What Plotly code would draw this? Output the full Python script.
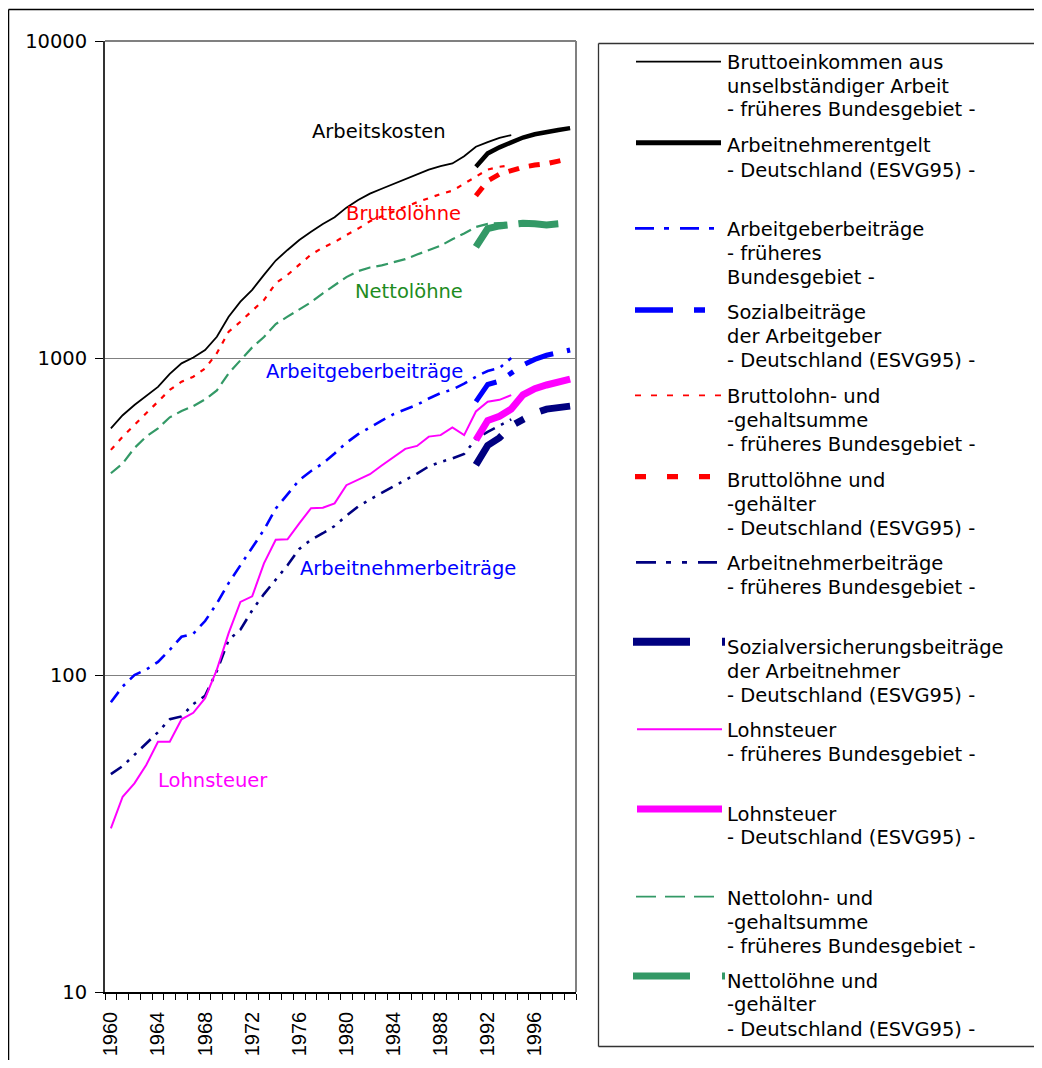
import plotly.graph_objects as go

# ---------------- data ----------------
years_west = list(range(1960, 1995))
years_de = list(range(1991, 2000))

bruttoeinkommen_west = [600, 660, 711, 759, 811, 891, 962, 1004, 1059, 1167,
                        1349, 1506, 1640, 1829, 2030, 2192, 2355, 2500, 2646, 2780,
                        2980, 3150, 3300, 3420, 3540, 3670, 3800, 3930, 4030, 4110,
                        4330, 4640, 4800, 4950, 5050]
arbeitnehmerentgelt_de = [4015, 4420, 4620, 4780, 4960, 5080, 5170, 5240, 5310]

arbeitgeber_west = [82, 92, 100, 104, 110, 120, 132, 135, 148, 168,
                    195, 222, 254, 287, 335, 372, 412, 440, 465, 500,
                    540, 575, 605, 635, 665, 690, 712, 745, 775, 795,
                    830, 873, 910, 930, 1000]
sozialbeitraege_ag_de = [728, 825, 845, 900, 950, 990, 1020, 1040, 1060]

bruttolohn_west = [513, 565, 615, 669, 728, 793, 842, 873, 927, 1035,
                   1210, 1301, 1410, 1523, 1722, 1829, 1970, 2120, 2230, 2320,
                   2444, 2560, 2700, 2800, 2900, 3000, 3100, 3200, 3290, 3370,
                   3540, 3733, 3930, 4010, 4060]
bruttolohn_de = [3250, 3620, 3800, 3900, 4000, 4060, 4100, 4180, 4260]

arbeitnehmer_west = [48.7, 51.6, 56, 61, 66, 72.5, 74, 81, 86, 103,
                     129, 139, 160, 180, 200, 222, 250, 267, 280, 295,
                     318, 340, 358, 375, 393, 410, 432, 455, 470, 482,
                     498, 555, 585, 612, 640]
sv_arbeitnehmer_de = [460, 530, 560, 610, 640, 670, 690, 700, 705]

lohnsteuer_west = [32.8, 41.3, 45.5, 52, 61.6, 61.6, 72.5, 76, 84.5, 104,
                   135.5, 170, 177, 225, 267, 268, 301, 336, 337, 348,
                   397, 412, 430, 458, 486, 517, 528, 565, 571, 604,
                   571, 678, 728, 738, 764]
lohnsteuer_de = [551, 635, 655, 690, 765, 800, 822, 840, 858]

nettolohn_west = [433, 465, 520, 565, 600, 650, 680, 705, 740, 790,
                  895, 986, 1080, 1165, 1280, 1350, 1420, 1500, 1600, 1700,
                  1800, 1880, 1930, 1960, 2000, 2050, 2120, 2190, 2260, 2370,
                  2470, 2590, 2650, 2665, 2675]
nettolohn_de = [2240, 2560, 2610, 2650, 2660, 2650, 2630, 2650, 2670]

x_tick_years = list(range(1960, 2000, 4))
y_ticks = [10, 100, 1000, 10000]

legend_texts = [
    ["Bruttoeinkommen aus", "unselbständiger Arbeit", "- früheres Bundesgebiet -"],
    ["Arbeitnehmerentgelt", "- Deutschland (ESVG95) -"],
    ["Arbeitgeberbeiträge", "- früheres", "Bundesgebiet -"],
    ["Sozialbeiträge", "der Arbeitgeber", "- Deutschland (ESVG95) -"],
    ["Bruttolohn- und", "-gehaltsumme", "- früheres Bundesgebiet -"],
    ["Bruttolöhne und", "-gehälter", "- Deutschland (ESVG95) -"],
    ["Arbeitnehmerbeiträge", "- früheres Bundesgebiet -"],
    ["Sozialversicherungsbeiträge", "der Arbeitnehmer", "- Deutschland (ESVG95) -"],
    ["Lohnsteuer", "- früheres Bundesgebiet -"],
    ["Lohnsteuer", "- Deutschland (ESVG95) -"],
    ["Nettolohn- und", "-gehaltsumme", "- früheres Bundesgebiet -"],
    ["Nettolöhne und", "-gehälter", "- Deutschland (ESVG95) -"],
]

# ---------------- styling ----------------
FONT = "DejaVu Sans"
FS = 19.5
OFF = 8                      # default body margin of the html page
W, H = 1042 - 2 * OFF, 1068 - 2 * OFF
PL, PR, PT, PB = 105, 576, 41, 992   # plot area in screen pixels


def px(xp):
    return (xp - PL) / (PR - PL)


def py(yp):
    return (PB - yp) / (PB - PT)


BLACK = "#000000"
RED = "#FF0000"
BLUE = "#0000FF"
NAVY = "#000080"
MAGENTA = "#FF00FF"
GREEN = "#339966"

fig = go.Figure()

thin = [
    (years_west, bruttoeinkommen_west, BLACK, 1.8, "solid"),
    (years_west, bruttolohn_west, RED, 2.2, "5px,7px"),
    (years_west, nettolohn_west, GREEN, 2.2, "12px,6px"),
    (years_west, arbeitgeber_west, BLUE, 2.6, "13px,7px,3px,7px"),
    (years_west, arbeitnehmer_west, NAVY, 2.6, "13px,7px,3px,7px,3px,7px"),
    (years_west, lohnsteuer_west, MAGENTA, 2.0, "solid"),
]
thick = [
    (years_de, arbeitnehmerentgelt_de, BLACK, 4.5, "solid"),
    (years_de, bruttolohn_de, RED, 5.0, "11px,10px"),
    (years_de, nettolohn_de, GREEN, 7.0, "42px,11px,40px,30px"),
    (years_de, sozialbeitraege_ag_de, BLUE, 5.0, "30px,14px,6px,14px"),
    (years_de, sv_arbeitnehmer_de, NAVY, 7.0, "40px,18px,10px,18px"),
    (years_de, lohnsteuer_de, MAGENTA, 7.0, "solid"),
]
for xs, ys, col, w, dash in thin + thick:
    fig.add_trace(go.Scatter(x=xs, y=ys, mode="lines", showlegend=False,
                             line=dict(color=col, width=w, dash=dash),
                             hoverinfo="skip"))

annotations = []
labels = [
    ("Arbeitskosten", 379, 132, BLACK),
    ("Bruttolöhne", 403, 214, RED),
    ("Nettolöhne", 409, 291, "#1E8C1E"),
    ("Arbeitgeberbeiträge", 364, 372, BLUE),
    ("Arbeitnehmerbeiträge", 408, 568, BLUE),
    ("Lohnsteuer", 213, 780, MAGENTA),
]
for t, x0, y0, c in labels:
    annotations.append(dict(text=t, x=px(x0), y=py(y0), xref="paper", yref="paper",
                            xanchor="center", yanchor="middle", showarrow=False,
                            font=dict(family=FONT, size=FS, color=c)))

shapes = []
legend_lines = [
    (61.7, 636, 721, BLACK, 1.8, "solid"),
    (142.7, 636, 721, BLACK, 5.0, "solid"),
    (228.3, 635, 717, BLUE, 2.7, "19px,10px,5px,11px"),
    (310.0, 635, 705, BLUE, 5.3, "38px,21px,11px,21px"),
    (395.3, 635, 722, RED, 1.8, "6px,10px"),
    (476.7, 635, 710, RED, 5.3, "11px,21px"),
    (562.3, 636, 717, NAVY, 2.7, "20px,10px,5px,11px,5px,11px"),
    (641.7, 633, 725, NAVY, 8.0, "57px,32px"),
    (729.3, 637, 722, MAGENTA, 2.0, "solid"),
    (809.0, 637, 722, MAGENTA, 7.0, "solid"),
    (896.7, 636, 714, GREEN, 1.8, "20px,9px"),
    (976.0, 633, 725, GREEN, 7.0, "57px,32px"),
]
legend_text_y = [
    [62.3, 86, 109.3],
    [145, 170],
    [229.3, 253.3, 277.3],
    [312.7, 336.7, 360],
    [396, 421, 444],
    [480, 504.3, 528.3],
    [563.3, 587.3],
    [647.3, 671, 695],
    [730.7, 754.3],
    [814.3, 837.7],
    [898.3, 922.3, 946.7],
    [981.7, 1005, 1029.3],
]
for (ly, xa, xb, col, w, dash), texts, tys in zip(legend_lines, legend_texts, legend_text_y):
    shapes.append(dict(type="line", xref="paper", yref="paper",
                       x0=px(xa), x1=px(xb), y0=py(ly), y1=py(ly),
                       line=dict(color=col, width=w, dash=dash)))
    for t, ty in zip(texts, tys):
        annotations.append(dict(text=t, x=px(725), y=py(ty), xref="paper", yref="paper",
                                xanchor="left", yanchor="middle", showarrow=False,
                                font=dict(family=FONT, size=FS, color="#000000")))


def seg(xa, ya, xb, yb, color, width):
    shapes.append(dict(type="line", xref="paper", yref="paper",
                       x0=px(xa), x1=px(xb), y0=py(ya), y1=py(yb),
                       line=dict(color=color, width=width)))


# legend box (left, top, bottom; right side lies beyond the picture)
seg(598.5, 43.5, 598.5, 1046.5, "#333333", 1.3)
seg(598.5, 43.5, 1045, 43.5, "#333333", 1.3)
seg(598.5, 1046.5, 1045, 1046.5, "#333333", 1.3)
# outer frame (left and top visible)
seg(8.5, 9.5, 8.5, 1075, "#000000", 1.5)
seg(8.5, 9.5, 1045, 9.5, "#000000", 1.5)
# top & right border of plot area
shapes.append(dict(type="line", xref="paper", yref="paper", x0=0, x1=1, y0=1, y1=1,
                   line=dict(color="#808080", width=2)))
shapes.append(dict(type="line", xref="paper", yref="paper", x0=1, x1=1, y0=0, y1=1,
                   line=dict(color="#808080", width=2)))

fig.update_layout(
    width=W, height=H,
    margin=dict(l=PL - OFF, r=W - (PR - OFF), t=PT - OFF, b=H - (PB - OFF), autoexpand=False),
    paper_bgcolor="white", plot_bgcolor="white",
    template="none",
    font=dict(family=FONT, size=FS, color="#000000"),
    annotations=annotations, shapes=shapes,
    xaxis=dict(range=[1959.5, 1999.5], tickmode="array", tickvals=x_tick_years,
               ticktext=[str(y) for y in x_tick_years], tickangle=-90,
               ticks="", showgrid=False, zeroline=False, automargin=False,
               showline=True, linecolor="#000000", linewidth=1.5,
               ticklabelstandoff=10,
               tickfont=dict(family="Liberation Sans", size=20, color="#000000"),
               minor=dict(tick0=1959.5, dtick=1, ticks="outside", ticklen=6,
                          tickcolor="#000000", tickwidth=1, showgrid=False)),
    yaxis=dict(type="log", range=[1, 4], tickmode="array", tickvals=y_ticks,
               ticktext=[str(v) for v in y_ticks], ticks="outside", ticklen=8,
               tickcolor="#000000", tickwidth=1,
               showgrid=True, gridcolor="#808080", gridwidth=1.3,
               zeroline=False, automargin=False,
               showline=True, linecolor="#333333", linewidth=1.8,
               ticklabelstandoff=4,
               tickfont=dict(family=FONT, size=FS, color="#000000")),
)

fig.write_html("out.html")
